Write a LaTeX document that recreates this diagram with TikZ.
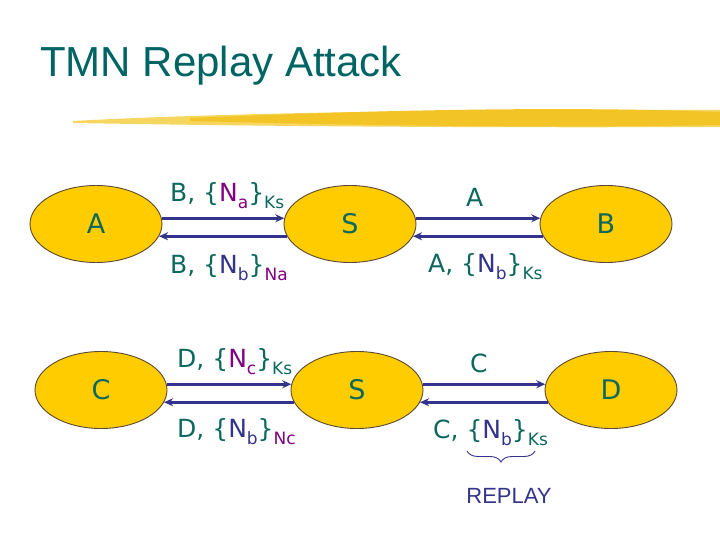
\documentclass[tikz,border=0pt]{standalone}
\usepackage{fontspec}
\setmainfont{DejaVu Sans}
\newfontfamily\headfont{Liberation Sans}
\usetikzlibrary{arrows.meta,decorations.pathreplacing,shapes.geometric}
\definecolor{tl}{RGB}{12,104,92}
\definecolor{hd}{RGB}{0,100,100}
\definecolor{pu}{RGB}{128,0,128}
\definecolor{nv}{RGB}{51,51,140}
\definecolor{gold}{RGB}{255,204,0}
\definecolor{edg}{RGB}{90,72,50}
\definecolor{brushA}{RGB}{242,196,38}
\definecolor{brushB}{RGB}{247,214,96}
\newcommand\lo[2]{\raisebox{-7pt}{\fontsize{17}{17}\selectfont\color{#1}#2}}
\begin{document}
\begin{tikzpicture}[x=1pt,y=-1pt,font=\fontsize{25}{25}\selectfont,
	ent/.style={ellipse,draw=edg,line width=0.9pt,fill=gold,minimum width=132pt,minimum height=77pt,inner sep=0pt,text=tl,font=\fontsize{27}{27}\selectfont},
	msg/.style={draw=nv,line width=2.6pt,-{Stealth[length=9pt,width=8pt]}},
	lbl/.style={anchor=base west,inner sep=0pt,text=tl}]
	\useasboundingbox (0,0) rectangle (720,540);
	% title and brush stroke
	\node[anchor=base west,inner sep=0pt,text=hd,font=\headfont\fontsize{42}{42}\selectfont] (title) at (40,77) {TMN Replay Attack};
	\fill[brushB] (73,121) .. controls (200,114) and (420,109) .. (720,110) -- (720,127) .. controls (450,128) and (250,126) .. (73,123) -- cycle;
	\fill[brushA] (190,118) .. controls (380,110) and (560,106) .. (720,112) -- (720,125) .. controls (560,128) and (380,126) .. (190,121) -- cycle;
	% parties
	\foreach \n/\x/\y/\t in {A/96/224/A, S1/350/224/S, B/606/224/B, C/101/390/C, S2/357/390/S, D/611/390/D}
		\node[ent] (\n) at (\x,\y) {\t};
	\foreach \p/\q in {A/S1, S1/B, C/S2, S2/D}{
		\draw[msg] (\p.5) -- (\q.175);
		\draw[msg] (\q.-169) -- (\p.-11);
	}
	% messages
	\foreach \m/\x/\y/\t in {m1/170/202/{B, \{{\color{pu}N\lo{pu}{a}}\}\lo{tl}{Ks}},
		m2/170/273/{B, \{{\color{nv}N\lo{nv}{b}}\}\lo{pu}{Na}},
		m3/466/207/{A},
		m4/428/272/{A, \{{\color{nv}N\lo{nv}{b}}\}\lo{tl}{Ks}},
		m5/177/367/{D, \{{\color{pu}N\lo{pu}{c}}\}\lo{tl}{Ks}},
		m6/177/437/{D, \{{\color{nv}N\lo{nv}{b}}\}\lo{pu}{Nc}},
		m7/470/372/{C},
		m8/433/438/{C, \{{\color{nv}N\lo{nv}{b}}\}\lo{tl}{Ks}}}
		\node[lbl] (\m) at (\x,\y) {\t};
	\coordinate (bl) at (467,451);
	\coordinate (br) at (535,451);
	\draw[nv,line width=0.9pt,decorate,decoration={brace,mirror,amplitude=11pt}] (bl) -- (br);
	\node[inner sep=0pt,text=nv,font=\headfont\fontsize{22}{22}\selectfont] (rp) at (509,496) {REPLAY};
\end{tikzpicture}
\end{document}
